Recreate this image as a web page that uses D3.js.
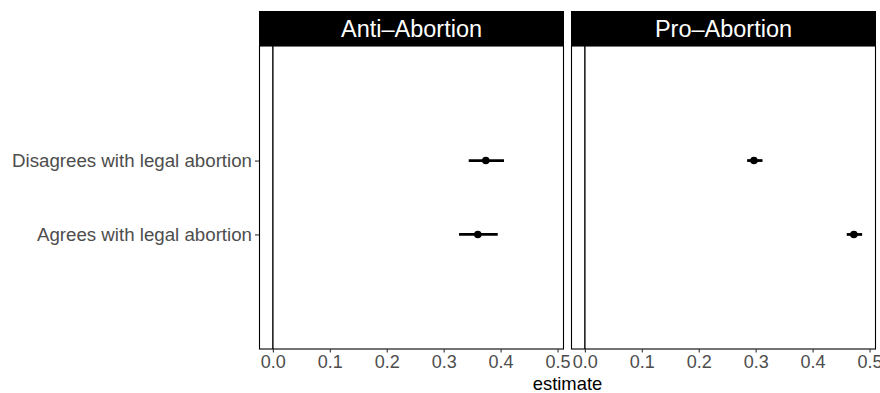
<!DOCTYPE html>
<html>
<head>
<meta charset="utf-8">
<script src="https://cdn.jsdelivr.net/npm/d3@7"></script>
<style>
  body { margin: 0; background: #fff; }
  svg { display: block; font-family: "Liberation Sans", Arial, Helvetica, sans-serif; }
</style>
</head>
<body>
<svg id="chart" width="880" height="393"></svg>
<script>
// Facets (panels) and response categories, top to bottom
const panels = ["Anti\u2013Abortion", "Pro\u2013Abortion"];
const categories = ["Disagrees with legal abortion", "Agrees with legal abortion"];

// Point estimates and interval bounds, per panel, in category order
const estimates = [[0.374, 0.360], [0.297, 0.4725]];
const lower     = [[0.344, 0.327], [0.285, 0.460]];
const upper     = [[0.406, 0.395], [0.312, 0.487]];

const xTicks = [0.0, 0.1, 0.2, 0.3, 0.4, 0.5];
const xTitle = "estimate";

const svg = d3.select("#chart");

const panelTop = 46, panelBottom = 349;
const stripTop = 11;
const panelLefts = [259, 571];
const panelWidth = 305;

// Shared x domain: data range including zero, expanded by 5% each side
const allVals = [0, ...lower.flat(), ...upper.flat()];
const lo = d3.min(allVals), hi = d3.max(allVals);
const pad = (hi - lo) * 0.05;
const xDomain = [lo - pad, hi + pad];

const y = d3.scalePoint()
  .domain(categories)
  .range([panelTop, panelBottom])
  .padding(1.55);

panels.forEach((name, p) => {
  const left = panelLefts[p];
  const x = d3.scaleLinear().domain(xDomain).range([left, left + panelWidth]);
  const g = svg.append("g");

  // strip
  g.append("rect")
    .attr("x", left).attr("y", stripTop)
    .attr("width", panelWidth).attr("height", panelTop - stripTop)
    .attr("fill", "#000");
  g.append("text")
    .attr("x", left + panelWidth / 2).attr("y", (stripTop + panelTop) / 2)
    .attr("dy", "0.36em")
    .attr("text-anchor", "middle")
    .attr("fill", "#fff")
    .attr("font-size", "23.5px")
    .text(name);

  // reference line at zero
  g.append("line")
    .attr("x1", x(0)).attr("x2", x(0))
    .attr("y1", panelTop).attr("y2", panelBottom)
    .attr("stroke", "#000").attr("stroke-width", 1.4);

  // intervals and points
  categories.forEach((c, i) => {
    g.append("line")
      .attr("x1", x(lower[p][i])).attr("x2", x(upper[p][i]))
      .attr("y1", y(c)).attr("y2", y(c))
      .attr("stroke", "#000").attr("stroke-width", 2.8);
    g.append("circle")
      .attr("cx", x(estimates[p][i])).attr("cy", y(c))
      .attr("r", 3.8).attr("fill", "#000");
  });

  // panel border
  g.append("rect")
    .attr("x", left + 0.5).attr("y", panelTop)
    .attr("width", panelWidth - 1).attr("height", panelBottom - panelTop)
    .attr("fill", "none").attr("stroke", "#000").attr("stroke-width", 1.1);

  // x axis
  const xAxis = d3.axisBottom(x)
    .tickValues(xTicks)
    .tickFormat(d3.format(".1f"))
    .tickSizeInner(3.5).tickSizeOuter(0).tickPadding(3);
  const ax = g.append("g")
    .attr("transform", `translate(0,${panelBottom})`)
    .call(xAxis);
  ax.select(".domain").remove();
  ax.selectAll(".tick line").attr("stroke", "#333").attr("stroke-width", 1.1);
  ax.selectAll(".tick text")
    .attr("fill", "#4d4d4d")
    .attr("font-size", "18px")
    .attr("font-family", "Liberation Sans, Arial, sans-serif");
});

// y axis on the first panel
const yAxis = d3.axisLeft(y).tickSizeInner(4).tickSizeOuter(0).tickPadding(3);
const ay = svg.append("g")
  .attr("transform", `translate(${panelLefts[0]},0)`)
  .call(yAxis);
ay.select(".domain").remove();
ay.selectAll(".tick line").attr("stroke", "#333").attr("stroke-width", 1.1);
ay.selectAll(".tick text")
  .attr("fill", "#4d4d4d")
  .attr("font-size", "18.7px")
  .attr("font-family", "Liberation Sans, Arial, sans-serif");

// x axis title
svg.append("text")
  .attr("x", (panelLefts[0] + panelLefts[1] + panelWidth) / 2)
  .attr("y", 390)
  .attr("text-anchor", "middle")
  .attr("fill", "#000")
  .attr("font-size", "18.4px")
  .text(xTitle);
</script>
</body>
</html>
